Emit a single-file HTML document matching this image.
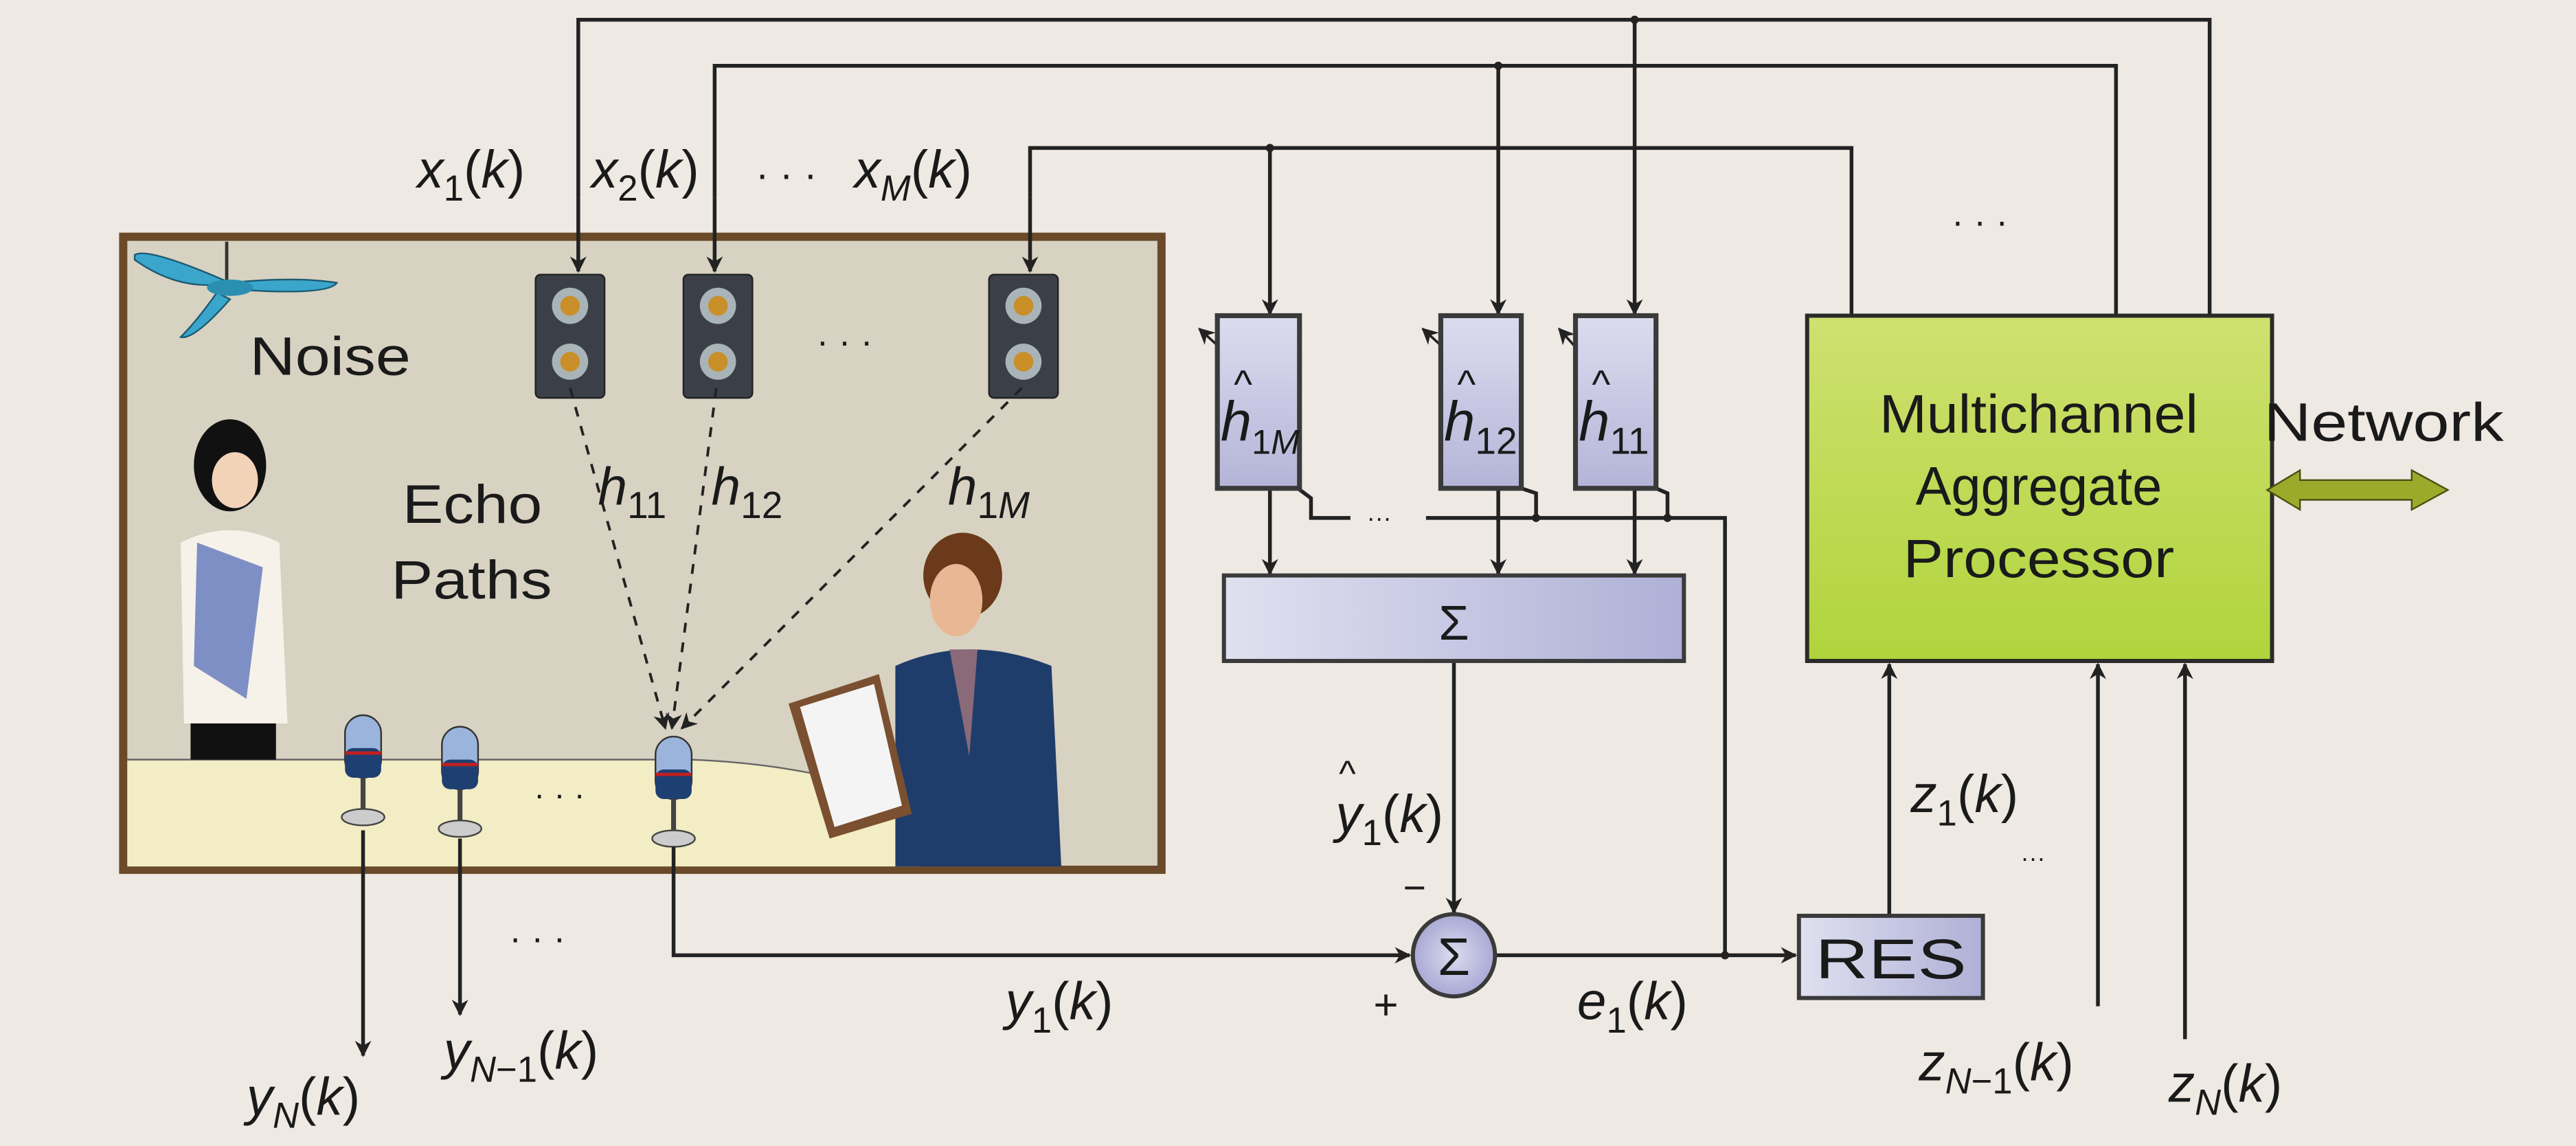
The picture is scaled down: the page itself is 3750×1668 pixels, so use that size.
<!DOCTYPE html>
<html><head><meta charset="utf-8"><style>
html,body{margin:0;padding:0;background:#efe9e3;}
svg{display:block;}
text{font-family:"Liberation Sans",sans-serif;fill:#1a1a1a;}
.it{font-style:italic;}
</style></head><body>
<svg width="3750" height="1668" viewBox="0 0 1568 697" preserveAspectRatio="none" xmlns="http://www.w3.org/2000/svg">
<defs>
<marker id="a" markerWidth="10" markerHeight="10" refX="9" refY="5" orient="auto" markerUnits="userSpaceOnUse"><path d="M0,0 L10,5 L0,10 L3,5z" fill="#222"/></marker>
<linearGradient id="hb" x1="0" y1="0" x2="0" y2="1"><stop offset="0" stop-color="#dcdcef"/><stop offset="1" stop-color="#b4b4d8"/></linearGradient>
<linearGradient id="sb" x1="0" y1="0" x2="1" y2="0"><stop offset="0" stop-color="#e0e0f0"/><stop offset="1" stop-color="#aeb0d6"/></linearGradient>
<linearGradient id="gb" x1="0" y1="0" x2="0" y2="1"><stop offset="0" stop-color="#cfe070"/><stop offset="1" stop-color="#b0d43c"/></linearGradient>
<radialGradient id="cb"><stop offset="0" stop-color="#dcdcf0"/><stop offset="1" stop-color="#a8a8d4"/></radialGradient>
</defs>
<rect width="1568" height="697" fill="#efe9e3"/>
<!-- room -->
<rect x="75" y="144" width="632" height="385" fill="#d8d2c2" stroke="#6b4a2a" stroke-width="5"/>
<path d="M77.5,462 L420,462 Q500,465 560,490 L560,527 L77.5,527z" fill="#f2edc4"/>
<path d="M77.5,462 L420,462 Q500,465 560,490" fill="none" stroke="#666" stroke-width="1"/>
<!-- fan -->
<line x1="138" y1="147" x2="138" y2="172" stroke="#333" stroke-width="2"/>
<path d="M82,155 Q90,150 140,172 Q110,178 82,158z" fill="#3aa6cc" stroke="#1c5a70"/>
<path d="M140,172 Q180,168 205,172 Q200,180 142,176z" fill="#3aa6cc" stroke="#1c5a70"/>
<path d="M132,178 Q120,195 110,205 Q118,207 140,182z" fill="#3aa6cc" stroke="#1c5a70"/>
<ellipse cx="140" cy="175" rx="14" ry="5" fill="#2b8fb2"/>
<text x="152" y="228" font-size="33" textLength="98" lengthAdjust="spacingAndGlyphs">Noise</text>
<text x="245" y="318" font-size="33" textLength="85" lengthAdjust="spacingAndGlyphs">Echo</text>
<text x="238" y="364" font-size="33" textLength="98" lengthAdjust="spacingAndGlyphs">Paths</text>
<!-- woman -->
<ellipse cx="140" cy="283" rx="22" ry="28" fill="#111"/>
<ellipse cx="143" cy="292" rx="14" ry="17" fill="#f3d3b8"/>
<path d="M110,330 Q140,315 170,330 L175,440 L112,440z" fill="#f6f2ea"/>
<path d="M120,330 L160,345 L150,425 L118,405z" fill="#7d8fc4"/>
<rect x="116" y="440" width="52" height="22" fill="#111"/>
<!-- man -->
<ellipse cx="586" cy="350" rx="24" ry="26" fill="#6b3a1a"/>
<ellipse cx="582" cy="365" rx="16" ry="22" fill="#e8b894"/>
<path d="M545,405 Q590,385 640,405 L646,527 L545,527z" fill="#1f3d6a"/>
<path d="M578,395 L595,395 L590,460z" fill="#8a6a78"/>
<path d="M480,428 L535,410 L555,495 L505,510z" fill="#7a5030"/>
<path d="M487,430 L532,416 L549,490 L508,503z" fill="#f4f4f4"/>
<!-- speakers -->
<g id="spk">
<rect x="326" y="167" width="42" height="75" rx="3" fill="#3b4048" stroke="#222"/>
<circle cx="347" cy="186" r="11" fill="#a9b4b8"/><circle cx="347" cy="186" r="6" fill="#c98f2a"/>
<circle cx="347" cy="220" r="11" fill="#a9b4b8"/><circle cx="347" cy="220" r="6" fill="#c98f2a"/>
</g>
<use href="#spk" x="90"/>
<use href="#spk" x="276"/>
<text x="497" y="215" font-size="22">·  ·  ·</text>
<!-- echo paths -->
<g stroke="#222" stroke-width="1.6" stroke-dasharray="6,6" fill="none">
<line x1="347" y1="236" x2="405" y2="443" marker-end="url(#a)"/>
<line x1="436" y1="236" x2="409" y2="443" marker-end="url(#a)"/>
<line x1="622" y1="236" x2="415" y2="443" marker-end="url(#a)"/>
</g>
<text class="it" x="364" y="307" font-size="32">h<tspan font-size="23" font-style="normal" dy="8">11</tspan></text>
<text class="it" x="433" y="307" font-size="32">h<tspan font-size="23" font-style="normal" dy="8">12</tspan></text>
<text class="it" x="577" y="307" font-size="32">h<tspan font-size="23" font-style="normal" dy="8">1</tspan><tspan font-size="23">M</tspan></text>
<!-- mics -->
<g id="mic">
<rect x="210" y="435" width="22" height="38" rx="11" fill="#9ab4dc" stroke="#333"/>
<rect x="210" y="455" width="22" height="18" rx="5" fill="#1e3f72"/>
<line x1="210" y1="458" x2="232" y2="458" stroke="#c02020" stroke-width="2"/>
<line x1="221" y1="473" x2="221" y2="495" stroke="#444" stroke-width="3"/>
<ellipse cx="221" cy="497" rx="13" ry="5" fill="#ccc" stroke="#444"/>
</g>
<use href="#mic" x="59" y="7"/>
<use href="#mic" x="189" y="13"/>
<text x="325" y="490" font-size="20">·  ·  ·</text>
<!-- wires -->
<g stroke="#222" stroke-width="2.3" fill="none">
<path d="M352,120 L352,12 L1345,12 L1345,192"/>
<line x1="352" y1="120" x2="352" y2="165" marker-end="url(#a)"/>
<path d="M435,120 L435,40 L1288,40 L1288,192"/>
<line x1="435" y1="120" x2="435" y2="165" marker-end="url(#a)"/>
<path d="M627,120 L627,90 L1127,90 L1127,192"/>
<line x1="627" y1="120" x2="627" y2="165" marker-end="url(#a)"/>
<line x1="995" y1="12" x2="995" y2="191" marker-end="url(#a)"/>
<line x1="912" y1="40" x2="912" y2="191" marker-end="url(#a)"/>
<line x1="773" y1="90" x2="773" y2="191" marker-end="url(#a)"/>
<line x1="773" y1="297" x2="773" y2="349" marker-end="url(#a)"/>
<line x1="912" y1="297" x2="912" y2="349" marker-end="url(#a)"/>
<line x1="995" y1="297" x2="995" y2="349" marker-end="url(#a)"/>
<line x1="221" y1="505" x2="221" y2="642" marker-end="url(#a)"/>
<line x1="280" y1="510" x2="280" y2="617" marker-end="url(#a)"/>
<path d="M410,515 L410,581 L858,581" marker-end="url(#a)"/>
<line x1="885" y1="402" x2="885" y2="555" marker-end="url(#a)"/>
<line x1="910" y1="581" x2="1093" y2="581" marker-end="url(#a)"/>
<path d="M790,297 L798,303 L798,315 L822,315"/>
<path d="M868,315 L1050,315 L1050,581"/>
<path d="M926,297 L935,300 L935,315"/>
<path d="M1008,297 L1015,300 L1015,315"/>
<line x1="1150" y1="557" x2="1150" y2="404" marker-end="url(#a)"/>
<line x1="1277" y1="612" x2="1277" y2="404" marker-end="url(#a)"/>
<line x1="1330" y1="632" x2="1330" y2="404" marker-end="url(#a)"/>
</g>
<g fill="#222"><circle cx="995" cy="12" r="2.5"/><circle cx="912" cy="40" r="2.5"/><circle cx="773" cy="90" r="2.5"/><circle cx="935" cy="315" r="2.5"/><circle cx="1015" cy="315" r="2.5"/><circle cx="1050" cy="581" r="2.5"/></g>
<text x="832" y="320" font-size="15">···</text>
<!-- adaptation arrows -->
<g stroke="#222" stroke-width="1.5"><line x1="741" y1="210" x2="730" y2="200" marker-end="url(#a)"/><line x1="877" y1="210" x2="866" y2="200" marker-end="url(#a)"/><line x1="958" y1="210" x2="949" y2="200" marker-end="url(#a)"/></g>
<!-- h boxes -->
<rect x="741" y="192" width="50" height="105" fill="url(#hb)" stroke="#3a3a3a" stroke-width="3"/>
<rect x="877" y="192" width="49" height="105" fill="url(#hb)" stroke="#3a3a3a" stroke-width="3"/>
<rect x="959" y="192" width="49" height="105" fill="url(#hb)" stroke="#3a3a3a" stroke-width="3"/>
<text class="it" x="743" y="268" font-size="34">h<tspan font-size="21" font-style="normal" dy="8">1</tspan><tspan font-size="21">M</tspan></text>
<text x="751" y="242" font-size="24">^</text>
<text class="it" x="879" y="268" font-size="34">h<tspan font-size="23" font-style="normal" dy="8">12</tspan></text>
<text x="887" y="242" font-size="24">^</text>
<text class="it" x="961" y="268" font-size="34">h<tspan font-size="23" font-style="normal" dy="8">11</tspan></text>
<text x="969" y="242" font-size="24">^</text>
<!-- sigma box -->
<rect x="745" y="350" width="280" height="52" fill="url(#sb)" stroke="#3a3a3a" stroke-width="2.5"/>
<text x="885" y="389" font-size="30" text-anchor="middle" font-family="Liberation Serif,serif">Σ</text>
<circle cx="885" cy="581" r="25" fill="url(#cb)" stroke="#3a3a3a" stroke-width="2.5"/>
<text x="885" y="593" font-size="32" text-anchor="middle" font-family="Liberation Serif,serif">Σ</text>
<text x="854" y="548" font-size="24">−</text>
<text x="836" y="620" font-size="26">+</text>
<!-- RES -->
<rect x="1095" y="557" width="112" height="50" fill="url(#sb)" stroke="#3a3a3a" stroke-width="2.5"/>
<text x="1151" y="595" font-size="34" text-anchor="middle" textLength="92" lengthAdjust="spacingAndGlyphs">RES</text>
<!-- MAP -->
<rect x="1100" y="192" width="283" height="210" fill="url(#gb)" stroke="#2a2a2a" stroke-width="2.5"/>
<text x="1241" y="263" font-size="33" text-anchor="middle" textLength="194" lengthAdjust="spacingAndGlyphs">Multichannel</text>
<text x="1241" y="307" font-size="33" text-anchor="middle" textLength="150" lengthAdjust="spacingAndGlyphs">Aggregate</text>
<text x="1241" y="351" font-size="33" text-anchor="middle" textLength="165" lengthAdjust="spacingAndGlyphs">Processor</text>
<text x="1378" y="268" font-size="33" textLength="146" lengthAdjust="spacingAndGlyphs">Network</text>
<path d="M1380,298 L1400,286 L1400,292 L1468,292 L1468,286 L1490,298 L1468,310 L1468,304 L1400,304 L1400,310z" fill="#9caa2c" stroke="#4a5010"/>
<text x="1188" y="142" font-size="22">·  ·  ·</text>
<!-- labels -->
<text class="it" x="254" y="114" font-size="32">x<tspan font-size="22" font-style="normal" dy="8">1</tspan><tspan dy="-8" font-style="normal">(</tspan>k<tspan font-style="normal">)</tspan></text>
<text class="it" x="360" y="114" font-size="32">x<tspan font-size="22" font-style="normal" dy="8">2</tspan><tspan dy="-8" font-style="normal">(</tspan>k<tspan font-style="normal">)</tspan></text>
<text x="460" y="114" font-size="24">·  ·  ·</text>
<text class="it" x="520" y="114" font-size="32">x<tspan font-size="22" dy="8">M</tspan><tspan dy="-8" font-style="normal">(</tspan>k<tspan font-style="normal">)</tspan></text>
<text class="it" x="150" y="678" font-size="32">y<tspan font-size="22" dy="8">N</tspan><tspan dy="-8" font-style="normal">(</tspan>k<tspan font-style="normal">)</tspan></text>
<text class="it" x="270" y="650" font-size="32">y<tspan font-size="22" dy="8">N</tspan><tspan font-size="22" font-style="normal">−1</tspan><tspan dy="-8" font-style="normal">(</tspan>k<tspan font-style="normal">)</tspan></text>
<text x="310" y="578" font-size="22">·  ·  ·</text>
<text class="it" x="612" y="620" font-size="32">y<tspan font-size="22" font-style="normal" dy="8">1</tspan><tspan dy="-8" font-style="normal">(</tspan>k<tspan font-style="normal">)</tspan></text>
<text class="it" x="813" y="506" font-size="32">y<tspan font-size="22" font-style="normal" dy="8">1</tspan><tspan dy="-8" font-style="normal">(</tspan>k<tspan font-style="normal">)</tspan></text>
<text x="815" y="478" font-size="22">^</text>
<text class="it" x="960" y="620" font-size="32">e<tspan font-size="22" font-style="normal" dy="8">1</tspan><tspan dy="-8" font-style="normal">(</tspan>k<tspan font-style="normal">)</tspan></text>
<text class="it" x="1163" y="494" font-size="32">z<tspan font-size="22" font-style="normal" dy="8">1</tspan><tspan dy="-8" font-style="normal">(</tspan>k<tspan font-style="normal">)</tspan></text>
<text x="1230" y="527" font-size="15">···</text>
<text class="it" x="1168" y="657" font-size="32">z<tspan font-size="22" dy="8">N</tspan><tspan font-size="22" font-style="normal">−1</tspan><tspan dy="-8" font-style="normal">(</tspan>k<tspan font-style="normal">)</tspan></text>
<text class="it" x="1320" y="670" font-size="32">z<tspan font-size="22" dy="8">N</tspan><tspan dy="-8" font-style="normal">(</tspan>k<tspan font-style="normal">)</tspan></text>
</svg>
</body></html>
